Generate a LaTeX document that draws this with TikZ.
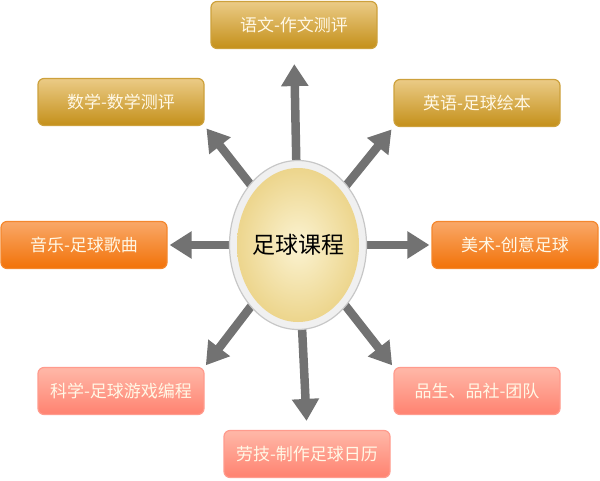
\documentclass[tikz,border=0pt]{standalone}
\usepackage{fontspec}
\setmainfont{Noto Sans CJK SC}
\usetikzlibrary{arrows.meta,shapes.geometric,backgrounds}
\definecolor{cGold}{HTML}{C4901A}
\definecolor{cGoldLt}{HTML}{EBCB86}
\definecolor{cOrange}{HTML}{F27208}
\definecolor{cOrangeLt}{HTML}{F9A868}
\definecolor{cSalmon}{HTML}{FF8270}
\definecolor{cSalmonLt}{HTML}{FFB8A8}
\definecolor{cText}{HTML}{FFF8E6}
\definecolor{cArrow}{HTML}{727272}
\definecolor{cYolk}{HTML}{EBD285}
\definecolor{cYolkLt}{HTML}{FBF3D2}

\begin{document}
\begin{tikzpicture}[
  x=1pt, y=-1pt,
  font=\fontsize{17}{20}\selectfont,
  box/.style={draw, rounded corners=6pt, align=center, line width=1.2pt,
              minimum width=166pt, minimum height=47pt, text=cText},
  goldbox/.style={box, draw=cGold!85!white, top color=cGoldLt, middle color=cGold,
                  bottom color=cGold},
  orangebox/.style={box, draw=cOrange!85!white, top color=cOrangeLt, middle color=cOrange,
                    bottom color=cOrange},
  salmonbox/.style={box, draw=cSalmon!80!white, top color=cSalmonLt, middle color=cSalmon,
                    bottom color=cSalmon},
  hubnode/.style={ellipse, minimum width=137pt, minimum height=169pt, inner sep=0pt,
                  draw=black!22, line width=1.2pt, fill=black!6,
                  font=\fontsize{23}{27}\selectfont,
                  path picture={\shade[inner color=cYolkLt, outer color=cYolk]
                    (path picture bounding box.center) ellipse (61 and 77);}},
  arr/.style={-{Triangle[length=22pt, width=26pt]}, line width=8.5pt, cArrow},
]
\useasboundingbox (0,0) rectangle (600,480);

% ---------- centre ----------
\node[hubnode] (hub) at (298,245) {足球课程};

% ---------- upper row ----------
\node[goldbox] (yuwen) at (294,25) {语文-作文测评};
\node[goldbox] (shuxue) at (121,102) {数学-数学测评};
\node[goldbox] (yingyu) at (477,103) {英语-足球绘本};

% ---------- middle row ----------
\node[orangebox] (yinyue) at (84,245) {音乐-足球歌曲};
\node[orangebox] (meishu) at (515,245) {美术-创意足球};

% ---------- lower row ----------
\node[salmonbox] (kexue) at (121,391) {科学-足球游戏编程};
\node[salmonbox] (pinsheng) at (477,391) {品生、品社-团队};
\node[salmonbox] (laoji) at (307,454) {劳技-制作足球日历};

% ---------- arrows ----------
\begin{scope}[on background layer]
\draw[arr, shorten >=15pt] (hub.center) -- (yuwen.south);
\draw[arr, shorten >=3pt] (hub.center) -- (shuxue.south east);
\draw[arr, shorten >=3pt] (hub.center) -- (yingyu.south west);
\draw[arr, shorten >=2pt] (hub.center) -- (yinyue.east);
\draw[arr, shorten >=2pt] (hub.center) -- (meishu.west);
\draw[arr, shorten >=2pt] (hub.center) -- (kexue.north east);
\draw[arr, shorten >=2pt] (hub.center) -- (pinsheng.north west);
\draw[arr, shorten >=9pt] (hub.center) -- (laoji.north);
\end{scope}

\end{tikzpicture}
\end{document}
